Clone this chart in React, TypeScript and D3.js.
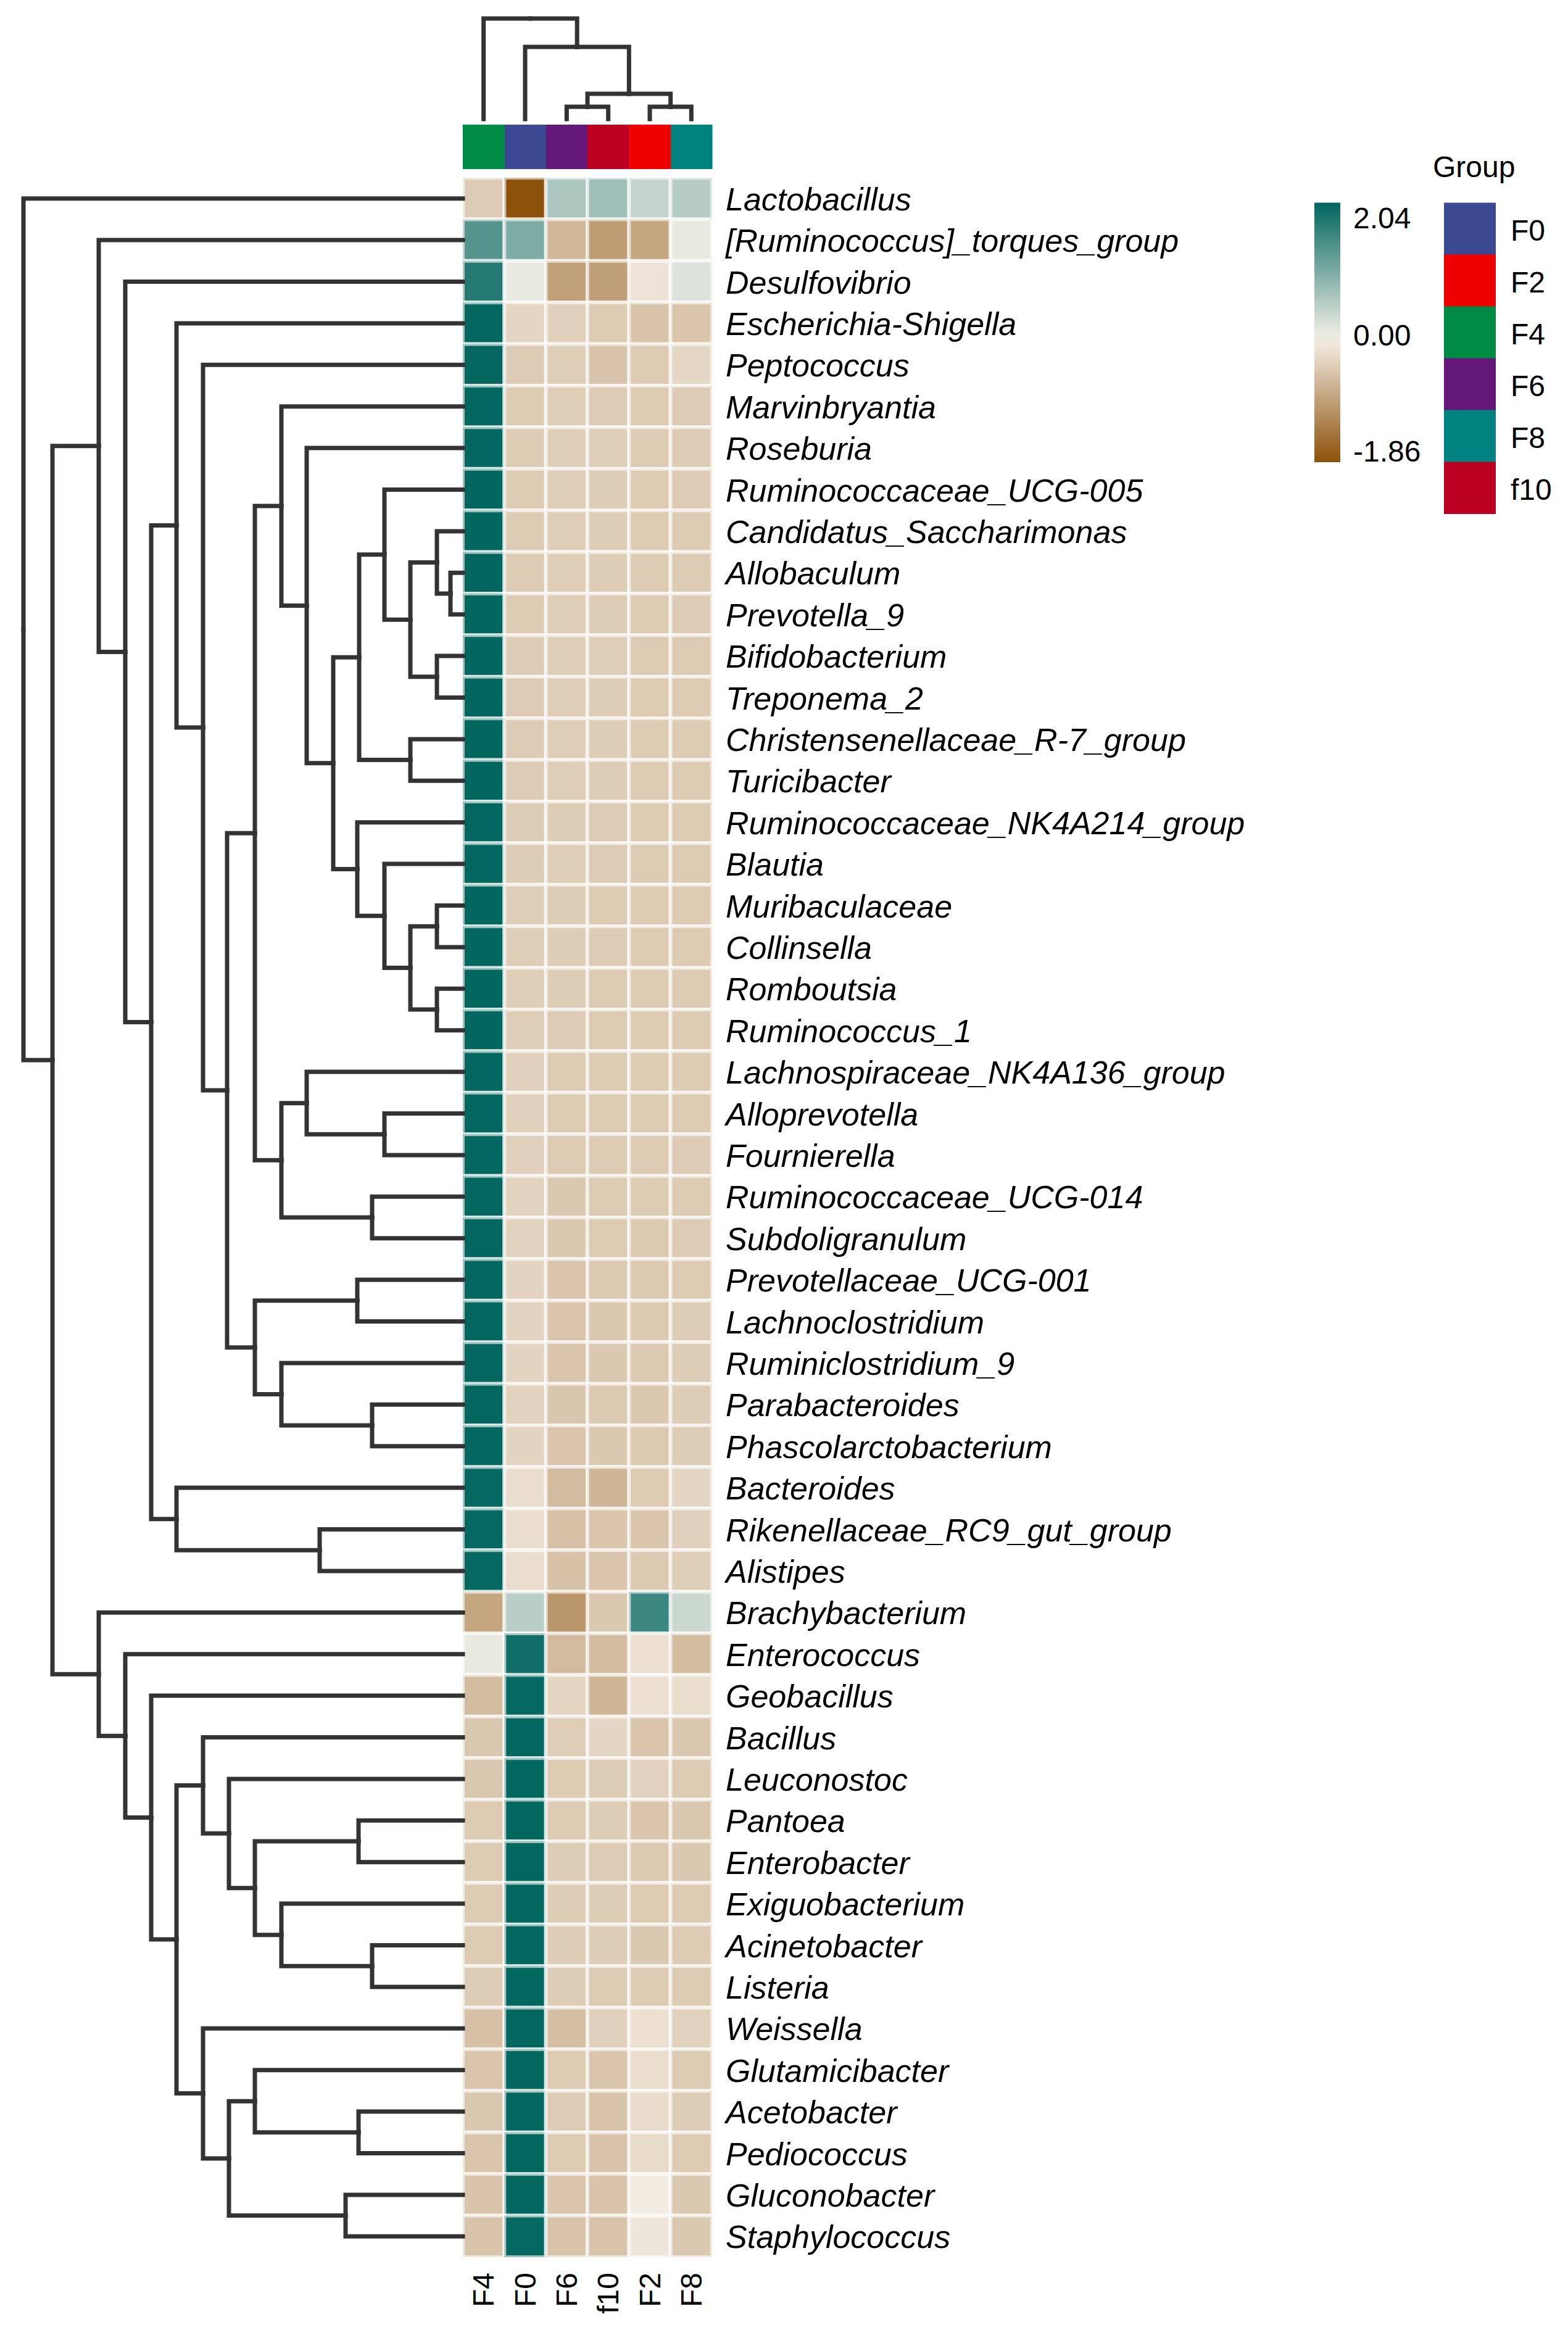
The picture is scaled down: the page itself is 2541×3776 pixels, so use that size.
import React from "react";
import * as d3 from "d3";

const rowLabels = [
  "Lactobacillus", "[Ruminococcus]_torques_group", "Desulfovibrio", "Escherichia-Shigella",
  "Peptococcus", "Marvinbryantia", "Roseburia", "Ruminococcaceae_UCG-005",
  "Candidatus_Saccharimonas", "Allobaculum", "Prevotella_9", "Bifidobacterium",
  "Treponema_2", "Christensenellaceae_R-7_group", "Turicibacter", "Ruminococcaceae_NK4A214_group",
  "Blautia", "Muribaculaceae", "Collinsella", "Romboutsia", "Ruminococcus_1",
  "Lachnospiraceae_NK4A136_group", "Alloprevotella", "Fournierella", "Ruminococcaceae_UCG-014",
  "Subdoligranulum", "Prevotellaceae_UCG-001", "Lachnoclostridium", "Ruminiclostridium_9",
  "Parabacteroides", "Phascolarctobacterium", "Bacteroides", "Rikenellaceae_RC9_gut_group",
  "Alistipes", "Brachybacterium", "Enterococcus", "Geobacillus", "Bacillus", "Leuconostoc",
  "Pantoea", "Enterobacter", "Exiguobacterium", "Acinetobacter", "Listeria", "Weissella",
  "Glutamicibacter", "Acetobacter", "Pediococcus", "Gluconobacter", "Staphylococcus",
];

const colLabels = ["F4", "F0", "F6", "f10", "F2", "F8"];

const valuesF4 = [
  -0.43, 1.34, 1.75, 2.02, 2.02, 2.03, 2.03, 2.04, 2.04, 2.04,
  2.04, 2.04, 2.04, 2.04, 2.04, 2.03, 2.03, 2.04, 2.04, 2.04,
  2.04, 2.03, 2.03, 2.03, 2.02, 2.02, 2.02, 2.02, 2.02, 2.02,
  2.02, 2.0, 2.0, 2.0, -0.86, 0.1, -0.6, -0.48, -0.48, -0.45,
  -0.45, -0.45, -0.45, -0.42, -0.55, -0.5, -0.48, -0.5, -0.52, -0.52,
];
const valuesF0 = [
  -1.86, 1.0, 0.11, -0.32, -0.43, -0.45, -0.45, -0.44, -0.44, -0.44,
  -0.44, -0.43, -0.43, -0.43, -0.43, -0.42, -0.42, -0.4, -0.41, -0.41,
  -0.41, -0.37, -0.37, -0.38, -0.34, -0.34, -0.33, -0.33, -0.33, -0.34,
  -0.33, -0.22, -0.22, -0.22, 0.5, 1.9, 2.0, 2.02, 2.03, 2.03,
  2.03, 2.03, 2.03, 2.03, 2.02, 2.02, 2.02, 2.02, 2.02, 2.0,
];
const valuesF6 = [
  0.62, -0.66, -0.94, -0.38, -0.4, -0.4, -0.39, -0.4, -0.4, -0.41,
  -0.4, -0.4, -0.4, -0.4, -0.41, -0.42, -0.41, -0.42, -0.42, -0.42,
  -0.43, -0.44, -0.44, -0.44, -0.47, -0.47, -0.5, -0.5, -0.5, -0.49,
  -0.5, -0.62, -0.56, -0.54, -1.05, -0.63, -0.32, -0.4, -0.45, -0.44,
  -0.42, -0.42, -0.42, -0.42, -0.57, -0.45, -0.43, -0.45, -0.5, -0.52,
];
const valuesF10 = [
  0.73, -0.97, -0.95, -0.45, -0.52, -0.43, -0.4, -0.42, -0.42, -0.42,
  -0.42, -0.41, -0.42, -0.42, -0.42, -0.43, -0.43, -0.44, -0.43, -0.44,
  -0.44, -0.44, -0.44, -0.44, -0.45, -0.45, -0.46, -0.47, -0.47, -0.46,
  -0.47, -0.68, -0.5, -0.5, -0.47, -0.6, -0.68, -0.3, -0.42, -0.42,
  -0.43, -0.42, -0.42, -0.44, -0.37, -0.5, -0.52, -0.52, -0.52, -0.52,
];
const valuesF2 = [
  0.4, -0.86, -0.15, -0.52, -0.45, -0.45, -0.44, -0.45, -0.45, -0.45,
  -0.45, -0.45, -0.45, -0.44, -0.44, -0.45, -0.44, -0.44, -0.45, -0.45,
  -0.44, -0.45, -0.45, -0.45, -0.45, -0.46, -0.46, -0.46, -0.46, -0.47,
  -0.46, -0.45, -0.5, -0.46, 1.55, -0.2, -0.2, -0.5, -0.36, -0.5,
  -0.46, -0.45, -0.47, -0.44, -0.2, -0.22, -0.23, -0.26, -0.05, -0.12,
];
const valuesF8 = [
  0.53, 0.11, 0.2, -0.5, -0.29, -0.43, -0.43, -0.43, -0.44, -0.44,
  -0.43, -0.44, -0.44, -0.44, -0.44, -0.45, -0.45, -0.44, -0.44, -0.44,
  -0.44, -0.44, -0.44, -0.43, -0.44, -0.43, -0.44, -0.42, -0.42, -0.42,
  -0.42, -0.3, -0.38, -0.4, 0.35, -0.6, -0.22, -0.48, -0.44, -0.48,
  -0.47, -0.45, -0.45, -0.45, -0.35, -0.45, -0.42, -0.45, -0.47, -0.47,
];

// hclust-style merges: negative = leaf (1-based row index), positive = earlier merge
const rowMerges: [number, number, number][] = [
  [-10, -11, 0.2], [-9, 1, 0.42], [-12, -13, 0.42], [-18, -19, 0.42], [-20, -21, 0.42],
  [2, 3, 0.85], [-14, -15, 0.85], [4, 5, 0.85], [-8, 6, 1.27], [-17, 8, 1.27],
  [-23, -24, 1.27], [-25, -26, 1.47], [-30, -31, 1.47], [-43, -44, 1.47], [9, 7, 1.68],
  [-40, -41, 1.69], [-47, -48, 1.69], [-16, 10, 1.71], [-27, -28, 1.71], [-49, -50, 1.9],
  [15, 18, 2.1], [-33, -34, 2.32], [-7, 21, 2.53], [-22, 11, 2.53], [-6, 23, 2.94],
  [24, 12, 2.94], [-29, 13, 2.94], [-42, 14, 2.94], [25, 26, 3.37], [19, 27, 3.37],
  [16, 28, 3.37], [-46, 17, 3.37], [29, 30, 3.82], [-39, 31, 3.79], [32, 20, 3.79],
  [-5, 33, 4.21], [-38, 34, 4.21], [-45, 35, 4.21], [-4, 36, 4.64], [-32, 22, 4.64],
  [37, 38, 4.64], [39, 40, 5.05], [-37, 41, 5.05], [-3, 42, 5.47], [-36, 43, 5.47],
  [-2, 44, 5.9], [-35, 45, 5.9], [46, 47, 6.65], [-1, 48, 7.12],
];

const colMerges: [number, number, number][] = [
  [-3, -4, 0.2], [-5, -6, 0.2], [1, 2, 0.41], [-2, 3, 1.17], [-1, 4, 1.63],
];

const legendGroups = ["F0", "F2", "F4", "F6", "F8", "f10"];
const groupColors = ["#3B4992", "#EE0000", "#008B45", "#631879", "#008280", "#BB0021"];
const legendBreaks = [2.04, 0.0, -1.86];
const colorDomain = [-1.86, 0, 2.04];
const colorRange = ["#8c510a", "#f5f0e8", "#01665e"];

const FONT = "'Liberation Sans', Arial, Helvetica, sans-serif";

type TNode = { height: number; leaf?: number; children?: TNode[] };

function buildTree(merges: [number, number, number][]) {
  const nodes: TNode[] = [];
  const get = (i: number): TNode => (i < 0 ? { height: 0, leaf: -i - 1 } : nodes[i - 1]);
  merges.forEach(([a, b, h]) => nodes.push({ height: h, children: [get(a), get(b)] }));
  return d3.hierarchy<TNode>(nodes[nodes.length - 1]);
}

function layout(root: d3.HierarchyNode<TNode>, leafPos: (i: number) => number) {
  const pos = new Map<d3.HierarchyNode<TNode>, number>();
  root.eachAfter((n) => {
    if (!n.children) pos.set(n, leafPos(n.data.leaf as number));
    else pos.set(n, d3.mean(n.children, (c) => pos.get(c) as number) as number);
  });
  return pos;
}

export default function App() {
  const colValues = [valuesF4, valuesF0, valuesF6, valuesF10, valuesF2, valuesF8];
  const x = d3.scaleBand<string>().domain(colLabels).range([750, 1154]);
  const y = d3.scaleBand<string>().domain(rowLabels).range([288, 3658]);
  const color = d3.scaleLinear<string>().domain(colorDomain).range(colorRange);

  const rowRoot = buildTree(rowMerges);
  const colRoot = buildTree(colMerges);
  const rowH = d3.scaleLinear().domain([0, rowRoot.data.height]).range([750, 38]);
  const colH = d3.scaleLinear().domain([0, colRoot.data.height]).range([193, 30]);
  const rowPos = layout(rowRoot, (i) => (y(rowLabels[i]) as number) + y.bandwidth() / 2);
  const colPos = layout(colRoot, (i) => (x(colLabels[i]) as number) + x.bandwidth() / 2);

  const rowLinks = rowRoot.links().map((l) => {
    const tx = rowH(l.target.data.height), ty = rowPos.get(l.target) as number;
    const sx = rowH(l.source.data.height), sy = rowPos.get(l.source) as number;
    return `M${tx},${ty}H${sx}V${sy}`;
  });
  const colLinks = colRoot.links().map((l) => {
    const tx = colPos.get(l.target) as number, ty = colH(l.target.data.height);
    const sx = colPos.get(l.source) as number, sy = colH(l.source.data.height);
    return `M${tx},${ty}V${sy}H${sx}`;
  });

  const groupIdx = (g: string) => legendGroups.indexOf(g);

  // legend
  const lgTop = 328.5, lgBottom = 749;
  const lgY = d3.scaleLinear().domain([-1.86, 2.04]).range([lgBottom, lgTop]);
  const stops = d3.range(0, 21).map((i) => {
    const v = -1.86 + (i / 20) * (2.04 + 1.86);
    return { offset: i / 20, c: color(v) };
  });
  const swatchH = 84;

  return (
    <svg width={2541} height={3776} style={{ position: "absolute", left: 0, top: 0 }} fontFamily={FONT}>
      <defs>
        <linearGradient id="cbar" x1="0" y1="1" x2="0" y2="0">
          {stops.map((s, i) => (
            <stop key={i} offset={s.offset} stopColor={s.c} />
          ))}
        </linearGradient>
      </defs>
      <rect width={2541} height={3776} fill="#ffffff" />

      {/* heatmap cells */}
      <g>
        {rowLabels.map((r, ri) =>
          colLabels.map((c, ci) => (
            <rect
              key={r + c}
              x={x(c)}
              y={y(r)}
              width={x.bandwidth()}
              height={y.bandwidth()}
              fill={color(colValues[ci][ri])}
              stroke="#ffffff"
              strokeOpacity={0.6}
              strokeWidth={6}
            />
          ))
        )}
      </g>

      {/* annotation bar */}
      <g>
        {colLabels.map((c) => (
          <rect key={c} x={x(c)} y={202} width={x.bandwidth() + 0.5} height={72} fill={groupColors[groupIdx(c)]} />
        ))}
      </g>

      {/* dendrograms */}
      <g fill="none" stroke="#333333" strokeWidth={7} strokeLinecap="square">
        {rowLinks.map((d, i) => (
          <path key={"r" + i} d={d} />
        ))}
        {colLinks.map((d, i) => (
          <path key={"c" + i} d={d} />
        ))}
      </g>

      {/* row labels */}
      <g fontSize={52} fontStyle="italic" fill="#000">
        {rowLabels.map((r) => (
          <text key={r} x={1176} y={(y(r) as number) + y.bandwidth() / 2 + 1} dominantBaseline="central">
            {r}
          </text>
        ))}
      </g>

      {/* column labels */}
      <g fontSize={48} fill="#000">
        {colLabels.map((c) => {
          const cx = (x(c) as number) + x.bandwidth() / 2;
          return (
            <text key={c} transform={`translate(${cx},3683) rotate(-90)`} textAnchor="end" dominantBaseline="central">
              {c}
            </text>
          );
        })}
      </g>

      {/* color legend */}
      <rect x={2130} y={lgTop} width={42} height={lgBottom - lgTop} fill="url(#cbar)" />
      <g fontSize={48} fill="#000">
        {legendBreaks.map((b) => (
          <text
            key={b}
            x={2193}
            y={Math.max(lgTop + 25, Math.min(lgBottom - 18, lgY(b) - 5))}
            dominantBaseline="central"
          >
            {b.toFixed(2)}
          </text>
        ))}
      </g>

      {/* group legend */}
      <text x={2322} y={287} fontSize={48} fill="#000">
        Group
      </text>
      {legendGroups.map((g, i) => (
        <g key={g}>
          <rect x={2340} y={lgTop + i * swatchH} width={84} height={swatchH + 0.5} fill={groupColors[i]} />
          <text x={2448} y={lgTop + i * swatchH + swatchH / 2 + 3} fontSize={48} dominantBaseline="central" fill="#000">
            {g}
          </text>
        </g>
      ))}
    </svg>
  );
}
